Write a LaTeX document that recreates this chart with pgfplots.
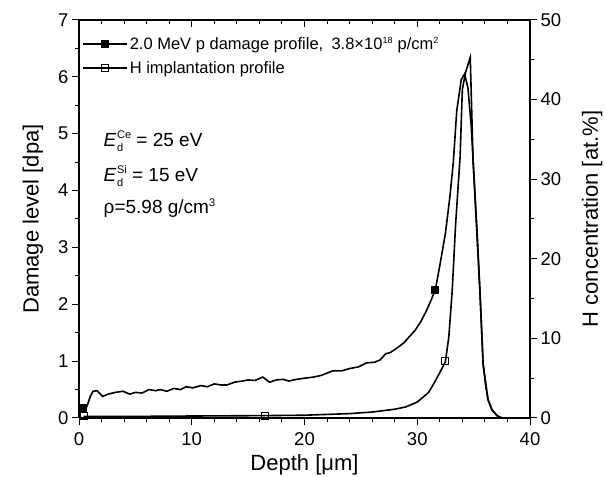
\documentclass[border=0pt]{standalone}
\usepackage{fontspec}
\setmainfont{Liberation Sans}
\usepackage{pgfplots}
\usepackage{pgfplotstable}
\pgfplotsset{compat=1.18}

% damage profile, dpa (left axis)
\pgfplotstableread{
x y
0.00 0.17
0.35 0.17
0.70 0.20
1.00 0.38
1.25 0.47
1.60 0.48
2.10 0.38
2.60 0.42
3.20 0.45
3.90 0.47
4.50 0.42
5.00 0.45
5.60 0.44
6.20 0.50
6.80 0.48
7.20 0.50
7.80 0.47
8.40 0.52
9.00 0.50
9.50 0.55
10.1 0.53
10.8 0.57
11.4 0.55
12.0 0.60
12.6 0.58
13.1 0.58
13.8 0.63
14.5 0.65
15.0 0.67
15.6 0.66
16.3 0.72
16.9 0.63
17.5 0.67
18.1 0.68
18.6 0.65
19.3 0.68
20.0 0.70
20.8 0.72
21.5 0.75
22.5 0.83
23.3 0.83
24.0 0.87
24.8 0.90
25.5 0.97
26.2 0.98
26.7 1.02
27.2 1.13
27.6 1.15
28.2 1.23
28.8 1.32
29.3 1.43
29.8 1.54
30.3 1.69
30.8 1.88
31.2 2.06
31.6 2.25
32.0 2.68
32.5 3.25
32.9 3.90
33.2 4.50
33.5 5.40
33.9 5.95
34.2 6.05
34.5 5.80
34.8 5.10
34.95 4.54
35.3 3.30
35.57 2.18
35.84 0.95
36.1 0.52
36.28 0.32
36.63 0.14
37.08 0.04
37.5 0.00
40.0 0.00
}\damage

% H concentration, at.% (right axis)
\pgfplotstableread{
x y
0.40 0.20
5.00 0.20
10.0 0.25
16.5 0.30
20.0 0.35
24.0 0.55
26.0 0.75
28.0 1.10
29.0 1.40
30.0 2.00
31.0 3.20
31.5 4.40
32.0 5.70
32.5 7.10
32.8 10.2
33.1 16.0
33.4 24.3
33.8 32.8
34.0 41.3
34.3 43.5
34.7 45.3
34.95 32.4
35.57 15.6
35.84 6.8
36.28 2.3
36.63 1.0
37.08 0.3
37.5 0.0
40.0 0.0
}\hconc

\begin{document}
\begin{tikzpicture}
\pgfplotsset{
  every axis/.append style={
    scale only axis, width=451pt, height=398pt,
    xmin=0, xmax=40,
    axis line style={line width=1.1pt},
    tick style={line width=1pt, black},
    major tick length=7pt, minor tick length=4pt,
    tick align=outside,
    tick label style={font=\fontsize{18.5}{20}\selectfont},
    label style={font=\fontsize{22}{24}\selectfont},
    /pgf/number format/assume math mode=true,
    clip=false
  }
}
\newcommand\ed[1]{\textit{E}\kern0.5pt\rlap{\raisebox{-5pt}{\fontsize{11}{11}\selectfont d}}\raisebox{8.5pt}{\fontsize{11}{11}\selectfont #1}}
\begin{axis}[
  name=main,
  axis x line*=bottom, axis y line*=left,
  ymin=0, ymax=7, ytick={0,...,7}, minor y tick num=1,
  xtick={0,10,...,40}, minor x tick num=4,
  xticklabel style={yshift=-4pt},
  xlabel={Depth [μm]}, ylabel={Damage level [dpa]},
  xlabel style={yshift=-2pt},
  ylabel style={yshift=8pt},
  legend style={draw=none, fill=none, at={(0,1)}, anchor=north west,
    yshift=-13pt, font=\fontsize{16.5}{18}\selectfont, row sep=6pt},
  legend cell align=left,
  legend image code/.code={\draw[mark repeat=2, mark phase=2]
    plot coordinates {(0pt,0pt) (22pt,0pt) (44pt,0pt)};}
]
\addplot[black, line width=1.6pt, mark=square*, mark indices={2,56},
  mark size=3.5pt, mark options={solid, line width=1pt}, forget plot] table {\damage};
\addlegendimage{black, line width=1.6pt, mark=square*, mark size=3.5pt,
  mark options={solid, line width=1pt}}
\addlegendentry{2.0 MeV p damage profile,\enspace 3.8×10\textsuperscript{\fontsize{9}{9}\selectfont 18} p/cm\textsuperscript{\fontsize{9}{9}\selectfont 2}}
\addlegendimage{black, line width=1.6pt, mark=square, mark size=3.5pt,
  mark options={solid, fill=white, line width=1pt}}
\addlegendentry{H implantation profile}
\node[anchor=base west, font=\fontsize{19}{21}\selectfont] at (rel axis cs:0.047,0.681)
  {\ed{Ce} = 25 eV};
\node[anchor=base west, font=\fontsize{19}{21}\selectfont] at (rel axis cs:0.047,0.593)
  {\ed{Si} = 15 eV};
\node[anchor=base west, font=\fontsize{19}{21}\selectfont] at (rel axis cs:0.047,0.515)
  {ρ=5.98 g/cm\textsuperscript{\fontsize{11}{11}\selectfont 3}};
\end{axis}

\begin{axis}[
  axis y line*=right, axis x line=none,
  ymin=0, ymax=50, ytick={0,10,...,50}, minor y tick num=1,
  ylabel={H concentration [at.\%]},
  ylabel style={yshift=-14pt}
]
\addplot[black, line width=1.6pt, mark=square, mark indices={1,4,14},
  mark size=3.5pt, mark options={solid, fill=white, line width=1pt}] table {\hconc};
\end{axis}

\begin{axis}[
  axis x line*=top, axis y line=none, tick align=inside,
  ymin=0, ymax=7, xtick={0,10,...,40}, minor x tick num=4, xticklabels={}
]
\end{axis}

\pgfresetboundingbox
\path ([shift={(-79pt,-59pt)}]main.south west) rectangle ([shift={(75pt,20pt)}]main.north east);
\end{tikzpicture}
\end{document}
